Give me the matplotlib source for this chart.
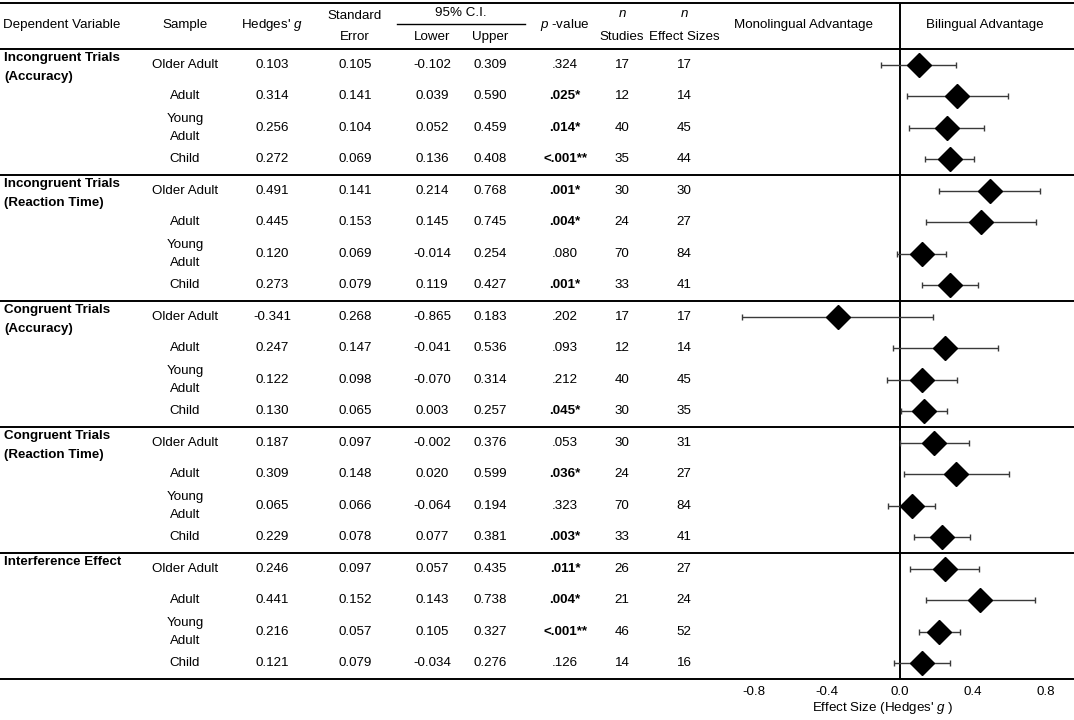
import matplotlib
matplotlib.use("Agg")
import matplotlib.pyplot as plt

plt.rcParams['font.family'] = ['Liberation Sans', 'DejaVu Sans']
plt.rcParams['mathtext.fontset'] = 'custom'
plt.rcParams['mathtext.rm'] = 'Liberation Sans'
plt.rcParams['mathtext.it'] = 'Liberation Sans:italic'
plt.rcParams['mathtext.bf'] = 'Liberation Sans:bold'

groups = ["Incongruent Trials\n(Accuracy)", "Incongruent Trials\n(Reaction Time)",
          "Congruent Trials\n(Accuracy)", "Congruent Trials\n(Reaction Time)",
          "Interference Effect"]
samples = ["Older Adult", "Adult", "Young\nAdult", "Child"]

hedges_g = [0.103, 0.314, 0.256, 0.272,
            0.491, 0.445, 0.120, 0.273,
            -0.341, 0.247, 0.122, 0.130,
            0.187, 0.309, 0.065, 0.229,
            0.246, 0.441, 0.216, 0.121]
std_err = [0.105, 0.141, 0.104, 0.069,
           0.141, 0.153, 0.069, 0.079,
           0.268, 0.147, 0.098, 0.065,
           0.097, 0.148, 0.066, 0.078,
           0.097, 0.152, 0.057, 0.079]
ci_lower = [-0.102, 0.039, 0.052, 0.136,
            0.214, 0.145, -0.014, 0.119,
            -0.865, -0.041, -0.070, 0.003,
            -0.002, 0.020, -0.064, 0.077,
            0.057, 0.143, 0.105, -0.034]
ci_upper = [0.309, 0.590, 0.459, 0.408,
            0.768, 0.745, 0.254, 0.427,
            0.183, 0.536, 0.314, 0.257,
            0.376, 0.599, 0.194, 0.381,
            0.435, 0.738, 0.327, 0.276]
p_values = [".324", ".025*", ".014*", "<.001**",
            ".001*", ".004*", ".080", ".001*",
            ".202", ".093", ".212", ".045*",
            ".053", ".036*", ".323", ".003*",
            ".011*", ".004*", "<.001**", ".126"]
n_studies = [17, 12, 40, 35,
             30, 24, 70, 33,
             17, 12, 40, 30,
             30, 24, 70, 33,
             26, 21, 46, 14]
n_effects = [17, 14, 45, 44,
             30, 27, 84, 41,
             17, 14, 45, 35,
             31, 27, 84, 41,
             27, 24, 52, 16]
x_ticks = [-0.8, -0.4, 0.0, 0.4, 0.8]

W, H = 1074, 720
fig = plt.figure(figsize=(W / 100, H / 100), dpi=100)
bg = fig.add_axes([0, 0, 1, 1])
bg.set_xlim(0, W)
bg.set_ylim(H, 0)
bg.axis('off')

FS = 9.6
TOP = 3
HEAD = 49
ROW = 31.5
n_rows = len(hedges_g)
BOTTOM = HEAD + ROW * n_rows
ZERO_X = 900
PX_PER_UNIT = 182.5
F_LEFT = 720

def row_y(i):
    return HEAD + ROW * (i + 0.5)

# horizontal rules
lw_rule = 1.4
for y in [TOP, HEAD] + [HEAD + 4 * ROW * k for k in range(1, len(groups))] + [BOTTOM]:
    bg.plot([0, W], [y, y], color='black', lw=lw_rule, solid_capstyle='butt')

# header
hy = 25
bg.text(3, hy, "Dependent Variable", fontsize=FS, ha='left', va='center')
bg.text(185, hy, "Sample", fontsize=FS, ha='center', va='center')
bg.text(272, hy, "Hedges' $g$", fontsize=FS, ha='center', va='center')
bg.text(355, 16, "Standard", fontsize=FS, ha='center', va='center')
bg.text(355, 37, "Error", fontsize=FS, ha='center', va='center')
bg.text(461, 13, "95% C.I.", fontsize=FS, ha='center', va='center')
bg.plot([397, 525], [24, 24], color='black', lw=1.0)
bg.text(432, 37, "Lower", fontsize=FS, ha='center', va='center')
bg.text(490, 37, "Upper", fontsize=FS, ha='center', va='center')
bg.text(565, hy, "$p$ -value", fontsize=FS, ha='center', va='center')
bg.text(622, 14, "$n$", fontsize=FS, ha='center', va='center')
bg.text(622, 37, "Studies", fontsize=FS, ha='center', va='center')
bg.text(684, 14, "$n$", fontsize=FS, ha='center', va='center')
bg.text(684, 37, "Effect Sizes", fontsize=FS, ha='center', va='center')
bg.text(803, hy, "Monolingual Advantage", fontsize=FS, ha='center', va='center')
bg.text(985, hy, "Bilingual Advantage", fontsize=FS, ha='center', va='center')

# group labels
for k, g in enumerate(groups):
    y0 = row_y(4 * k) - 7
    lines = g.split("\n")
    for m, ln in enumerate(lines):
        bg.text(4, y0 + 19 * m, ln, fontsize=FS, fontweight='bold', ha='left', va='center')

# table body
for i in range(n_rows):
    y = row_y(i)
    s = samples[i % 4]
    if "\n" in s:
        a, b = s.split("\n")
        bg.text(185, y - 8.5, a, fontsize=FS, ha='center', va='center')
        bg.text(185, y + 9, b, fontsize=FS, ha='center', va='center')
    else:
        bg.text(185, y, s, fontsize=FS, ha='center', va='center')
    bg.text(272, y, f"{hedges_g[i]:.3f}", fontsize=FS, ha='center', va='center')
    bg.text(355, y, f"{std_err[i]:.3f}", fontsize=FS, ha='center', va='center')
    bg.text(432, y, f"{ci_lower[i]:.3f}", fontsize=FS, ha='center', va='center')
    bg.text(490, y, f"{ci_upper[i]:.3f}", fontsize=FS, ha='center', va='center')
    p = p_values[i]
    bg.text(565, y, p, fontsize=FS, ha='center', va='center',
            fontweight='bold' if '*' in p else 'normal')
    bg.text(622, y, str(n_studies[i]), fontsize=FS, ha='center', va='center')
    bg.text(684, y, str(n_effects[i]), fontsize=FS, ha='center', va='center')

# forest plot axes
ax_w = W - F_LEFT
ax = fig.add_axes([F_LEFT / W, (H - BOTTOM) / H, ax_w / W, (BOTTOM - TOP) / H])
ax.patch.set_alpha(0)
ax.set_xlim((F_LEFT - ZERO_X) / PX_PER_UNIT, (W - ZERO_X) / PX_PER_UNIT)
ax.set_ylim(n_rows - 0.5, -0.5 - (HEAD - TOP) / ROW)
for sp in ax.spines.values():
    sp.set_visible(False)
ax.axvline(0, color='black', lw=1.4, zorder=1)

rows = list(range(n_rows))
xerr = [[g - lo for g, lo in zip(hedges_g, ci_lower)],
        [hi - g for g, hi in zip(hedges_g, ci_upper)]]
ax.errorbar(hedges_g, rows, xerr=xerr, fmt='none', ecolor='#3a3a3a',
            elinewidth=1.0, capsize=2.5, capthick=1.0, zorder=2)
ax.plot(hedges_g, rows, linestyle='none', marker='D', markersize=12.3,
        color='black', zorder=3)

ax.set_yticks([])
ax.set_xticks(x_ticks)
ax.set_xticklabels([f"{t:.1f}" for t in x_ticks], fontsize=FS)
ax.tick_params(axis='x', length=0, pad=5)
ax.set_xlabel("Effect Size (Hedges' $g$ )", fontsize=FS)
ax.xaxis.set_label_coords((883 - F_LEFT) / ax_w, -(700 - BOTTOM) / (BOTTOM - TOP))

fig.savefig("out.png", dpi=100)
